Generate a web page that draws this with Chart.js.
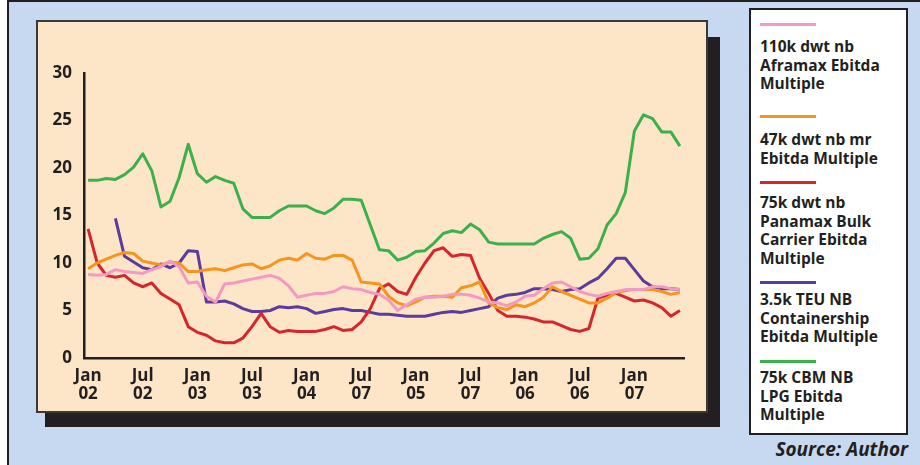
<!DOCTYPE html>
<html>
<head>
<meta charset="utf-8">
<script src="https://cdn.jsdelivr.net/npm/chart.js@4.4.1/dist/chart.umd.min.js"></script>
<style>
  html, body { margin: 0; padding: 0; }
  body { width: 920px; height: 465px; position: relative; overflow: hidden; background: #c6d9f0; font-family: "Open Sans", sans-serif; }
  #topbar { position: absolute; left: 0; top: 0; width: 920px; height: 2px; background: #231f20; }
  #leftwhite { position: absolute; left: 0; top: 0; width: 7px; height: 465px; background: #ffffff; }
  #leftbar { position: absolute; left: 7px; top: 0; width: 2px; height: 465px; background: #231f20; }
  #shadow { position: absolute; left: 45px; top: 37px; width: 675px; height: 390px; background: #231f20; }
  #panel { position: absolute; left: 36px; top: 20px; width: 672px; height: 393px; background: #fde6c8; box-sizing: border-box; border: 2px solid #3b3838; }
  #cv { position: absolute; left: 36px; top: 20px; width: 672px; height: 393px; }
  #legend { position: absolute; left: 749px; top: 8px; width: 159px; height: 427px; box-sizing: border-box; border: 2.5px solid #231f20; background: #ffffff; }
  .sample { position: absolute; height: 3px; width: 56px; }
  .ltext { position: absolute; left: 9px; font-weight: 700; font-size: 15.5px; line-height: 18.5px; color: #231f20; white-space: pre; }
  #source { position: absolute; right: 12px; top: 436px; font-weight: 700; font-style: italic; font-size: 19px; color: #231f20; }
</style>
</head>
<body>
<div id="topbar"></div>
<div id="leftwhite"></div>
<div id="leftbar"></div>
<div id="shadow"></div>
<div id="panel"></div>
<canvas id="cv" width="672" height="393"></canvas>
<div id="legend"></div>
<div id="source">Source: Author</div>
<script>
// ---- DATA (monthly, Jan 02 .. Jun 07 as drawn) ----
const tickLabels = [["Jan","02"],["Jul","02"],["Jan","03"],["Jul","03"],["Jan","04"],["Jul","07"],["Jan","05"],["Jul","07"],["Jan","06"],["Jul","06"],["Jan","07"]];
const yTicks = [0, 5, 10, 15, 20, 25, 30];

const seriesNames = [
  "110k dwt nb\nAframax Ebitda\nMultiple",
  "47k dwt nb mr\nEbitda Multiple",
  "75k dwt nb\nPanamax Bulk\nCarrier Ebitda\nMultiple",
  "3.5k TEU NB\nContainership\nEbitda Multiple",
  "75k CBM NB\nLPG Ebitda\nMultiple"
];

const aframax = [8.8,8.7,8.8,9.3,9.1,9.0,8.9,9.3,9.6,10.2,9.6,7.9,8.0,6.5,5.9,7.8,7.9,8.1,8.3,8.5,8.7,8.4,7.6,6.4,6.6,6.8,6.8,7.0,7.5,7.3,7.2,6.9,6.7,6.1,5.0,5.6,6.2,6.4,6.4,6.5,6.7,6.7,6.6,6.3,5.9,5.8,5.5,5.9,6.5,6.6,7.3,7.9,8.0,7.5,7.0,6.7,6.5,6.8,7.0,7.2,7.2,7.2,7.5,7.5,7.3,7.2];
const mrTanker = [9.4,10.0,10.4,10.8,11.1,11.0,10.2,10.0,9.8,10.1,10.0,9.1,9.1,9.3,9.4,9.2,9.5,9.8,9.9,9.4,9.7,10.3,10.5,10.3,11.0,10.5,10.4,10.8,10.8,10.3,8.0,7.9,7.8,6.5,5.8,5.5,5.9,6.4,6.5,6.5,6.4,7.4,7.6,8.0,5.8,5.3,5.1,5.6,5.4,5.8,6.4,7.5,7.0,6.6,6.2,5.8,5.8,6.3,6.9,7.1,7.2,7.2,7.2,7.0,6.7,6.9];
const panamax = [13.6,10.0,8.7,8.5,8.7,7.9,7.5,7.9,6.8,6.2,5.6,3.3,2.7,2.4,1.8,1.6,1.6,2.1,3.3,4.7,3.3,2.7,2.9,2.8,2.8,2.8,3.0,3.3,2.9,3.0,3.8,5.2,7.3,7.8,7.0,6.7,8.5,10.0,11.3,11.6,10.7,10.9,10.8,8.4,6.8,5.0,4.4,4.4,4.3,4.1,3.8,3.8,3.4,3.0,2.8,3.1,6.3,6.6,6.8,6.4,6.0,6.1,5.8,5.3,4.4,5.0];
const container = [null,null,null,14.7,10.7,10.1,9.5,9.3,9.9,9.5,10.0,11.3,11.2,5.9,5.9,6.0,5.7,5.2,4.9,4.9,5.0,5.4,5.3,5.4,5.2,4.7,4.9,5.1,5.2,5.0,5.0,4.8,4.6,4.6,4.5,4.4,4.4,4.4,4.6,4.8,4.9,4.8,5.0,5.2,5.4,6.3,6.6,6.7,6.9,7.3,7.3,7.2,7.0,7.2,7.3,7.9,8.4,9.4,10.5,10.5,9.3,8.1,7.5,7.3,7.3,7.2];
const lpg = [18.7,18.7,18.9,18.8,19.3,20.1,21.5,19.7,15.9,16.5,19.0,22.5,19.4,18.5,19.1,18.7,18.4,15.7,14.8,14.8,14.8,15.5,16.0,16.0,16.0,15.5,15.2,15.8,16.7,16.7,16.6,14.0,11.4,11.3,10.3,10.6,11.2,11.3,12.1,13.1,13.4,13.2,14.1,13.5,12.2,12.0,12.0,12.0,12.0,12.0,12.6,13.0,13.3,12.6,10.4,10.5,11.5,14.0,15.2,17.4,23.9,25.6,25.2,23.8,23.8,22.3];

const seriesValues = [aframax, mrTanker, panamax, container, lpg];
const seriesColors = ["#f49ac2", "#f7941d", "#d6262d", "#5b3b9b", "#3cb04a"];

// ---- layout (styles only) ----
const legendSampleTops = [14, 106, 172, 272, 351];
const legendTextTops = [27, 120, 183, 280, 358];
const FONT = "'Open Sans', sans-serif";

// legend (HTML)
const lg = document.getElementById('legend');
seriesNames.forEach((name, i) => {
  const s = document.createElement('div');
  s.className = 'sample';
  s.style.background = seriesColors[i];
  s.style.left = '9px';
  s.style.top = (legendSampleTops[i] - 1.5) + 'px';
  lg.appendChild(s);
  const t = document.createElement('div');
  t.className = 'ltext';
  t.style.top = legendTextTops[i] + 'px';
  t.textContent = name;
  lg.appendChild(t);
});

const tickPositions = tickLabels.map((_, i) => i * 6);

const datasets = seriesValues.map((vals, s) => ({
  label: seriesNames[s].replace(/\n/g, ' '),
  data: vals.map((v, i) => ({ x: i, y: v })),
  borderColor: seriesColors[s],
  borderWidth: 3,
  pointRadius: 0,
  tension: 0,
  spanGaps: false,
  fill: false,
  borderJoinStyle: 'round'
}));

new Chart(document.getElementById('cv'), {
  type: 'line',
  data: { datasets },
  options: {
    responsive: false,
    animation: false,
    devicePixelRatio: 1,
    layout: { padding: { left: 0, top: 53, right: 24, bottom: 0 } },
    plugins: { legend: { display: false }, tooltip: { enabled: false } },
    scales: {
      x: {
        type: 'linear',
        min: -0.45,
        max: 65.45,
        afterBuildTicks: (axis) => { axis.ticks = tickPositions.map(v => ({ value: v })); },
        afterFit: (axis) => { axis.height = 55; },
        grid: { display: true, color: 'rgba(0,0,0,0)', drawTicks: false },
        border: { display: true, color: '#231f20', width: 2.5 },
        ticks: {
          autoSkip: false,
          maxRotation: 0,
          padding: 9,
          color: '#231f20',
          font: { family: FONT, size: 17, weight: 'bold', lineHeight: 1.07 },
          callback: (value, index) => tickLabels[index]
        }
      },
      y: {
        type: 'linear',
        min: 0,
        max: 30,
        afterBuildTicks: (axis) => { axis.ticks = yTicks.map(v => ({ value: v })); },
        afterFit: (axis) => { axis.width = 48; },
        grid: { display: true, color: 'rgba(0,0,0,0)', drawTicks: false },
        border: { display: true, color: '#231f20', width: 2.5 },
        ticks: {
          padding: 12,
          color: '#231f20',
          font: { family: FONT, size: 17, weight: 'bold' }
        }
      }
    }
  }
});
</script>
</body>
</html>
